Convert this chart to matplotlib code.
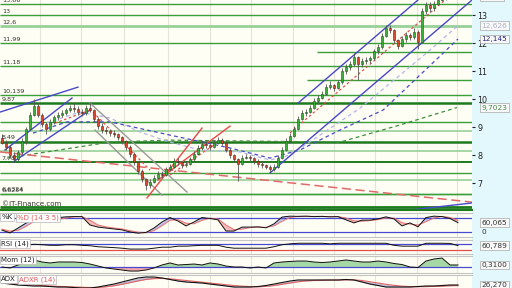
import numpy as np
import matplotlib
matplotlib.use("Agg")
import matplotlib.pyplot as plt
import matplotlib.transforms as mtransforms

# ---- price data (one candle every 4 px) ----
opens = [8.60, 8.45, 8.30, 8.00, 7.85, 8.10, 8.50, 8.95, 9.45, 9.75,
         9.45, 9.10, 8.95, 9.20, 9.35, 9.45, 9.50, 9.60, 9.70, 9.65,
         9.55, 9.50, 9.70, 9.60, 9.30, 9.05, 8.90, 8.85, 8.80, 8.75,
         8.65, 8.50, 8.30, 8.05, 7.75, 7.45, 7.15, 6.95, 7.05, 7.20,
         7.35, 7.30, 7.50, 7.60, 7.80, 7.75, 7.65, 7.70, 7.85, 8.05,
         8.25, 8.40, 8.35, 8.30, 8.45, 8.55, 8.45, 8.20, 8.00, 7.85,
         7.70, 7.90, 7.95, 7.90, 7.80, 7.70, 7.65, 7.60, 7.50, 7.60,
         7.90, 8.20, 8.50, 8.70, 8.95, 9.30, 9.50, 9.55, 9.70, 9.95,
         10.05, 10.20, 10.45, 10.50, 10.40, 10.60, 11.00, 11.15, 11.25, 11.50,
         11.25, 11.35, 11.40, 11.45, 11.70, 11.85, 12.25, 12.55, 12.45, 12.10,
         11.90, 12.15, 12.30, 12.20, 12.40, 12.05, 13.15, 13.35, 13.25, 13.40,
         13.55, 13.60, 13.72, 13.65, 13.70]
highs = [8.75, 8.55, 8.35, 8.10, 8.20, 8.60, 9.00, 9.55, 10.00, 9.85,
         9.50, 9.20, 9.30, 9.45, 9.55, 9.60, 9.70, 9.80, 9.85, 9.75,
         9.65, 9.80, 9.90, 9.65, 9.35, 9.15, 9.00, 8.95, 8.90, 8.80,
         8.70, 8.55, 8.35, 8.10, 7.80, 7.50, 7.20, 7.15, 7.30, 7.45,
         7.45, 7.60, 7.70, 7.90, 7.90, 7.80, 7.80, 7.95, 8.15, 8.35,
         8.55, 8.50, 8.40, 8.55, 8.65, 8.60, 8.50, 8.25, 8.05, 7.90,
         8.00, 8.05, 8.00, 7.95, 7.85, 7.80, 7.70, 7.65, 7.70, 8.00,
         8.30, 8.60, 8.80, 9.05, 9.40, 9.60, 9.65, 9.80, 10.05, 10.15,
         10.30, 10.55, 10.65, 10.55, 10.70, 11.10, 11.25, 11.35, 11.65, 11.55,
         11.45, 11.50, 11.55, 11.80, 11.95, 12.35, 12.65, 12.65, 12.50, 12.15,
         12.25, 12.40, 12.35, 12.55, 12.45, 13.25, 13.45, 13.45, 13.50, 13.60,
         13.70, 13.80, 13.80, 13.75, 13.75]
lows = [8.40, 8.20, 7.90, 7.75, 7.80, 8.05, 8.40, 8.90, 9.40, 9.35,
        9.00, 8.75, 8.85, 9.10, 9.25, 9.35, 9.45, 9.55, 9.55, 9.45,
        9.40, 9.45, 9.55, 9.20, 8.95, 8.80, 8.75, 8.70, 8.65, 8.55,
        8.40, 8.20, 7.95, 7.65, 7.35, 7.05, 6.75, 6.85, 7.00, 7.15,
        7.20, 7.25, 7.45, 7.55, 7.65, 7.55, 7.60, 7.65, 7.80, 8.00,
        8.20, 8.25, 8.20, 8.25, 8.40, 8.35, 8.10, 7.90, 7.75, 7.10,
        7.65, 7.85, 7.80, 7.70, 7.60, 7.55, 7.50, 7.40, 7.45, 7.55,
        7.85, 8.15, 8.45, 8.65, 8.90, 9.25, 9.40, 9.50, 9.65, 9.85,
        10.00, 10.15, 10.35, 10.30, 10.35, 10.55, 10.90, 11.05, 11.20, 10.70,
        11.15, 11.25, 11.30, 11.40, 11.60, 11.80, 12.20, 12.35, 12.00, 11.80,
        11.85, 12.05, 12.10, 12.15, 11.80, 12.00, 13.05, 13.10, 13.15, 13.35,
        13.50, 13.55, 13.60, 13.58, 13.60]
closes = [8.45, 8.30, 8.00, 7.85, 8.10, 8.50, 8.95, 9.45, 9.75, 9.45,
          9.10, 8.95, 9.20, 9.35, 9.45, 9.50, 9.60, 9.70, 9.65, 9.55,
          9.50, 9.70, 9.60, 9.30, 9.05, 8.90, 8.85, 8.80, 8.75, 8.65,
          8.50, 8.30, 8.05, 7.75, 7.45, 7.15, 6.95, 7.05, 7.20, 7.35,
          7.30, 7.50, 7.60, 7.80, 7.75, 7.65, 7.70, 7.85, 8.05, 8.25,
          8.40, 8.35, 8.30, 8.45, 8.55, 8.45, 8.20, 8.00, 7.85, 7.70,
          7.90, 7.95, 7.90, 7.80, 7.70, 7.65, 7.60, 7.50, 7.60, 7.90,
          8.20, 8.50, 8.70, 8.95, 9.30, 9.50, 9.55, 9.70, 9.95, 10.05,
          10.20, 10.45, 10.50, 10.40, 10.60, 11.00, 11.15, 11.25, 11.50, 11.25,
          11.35, 11.40, 11.45, 11.70, 11.85, 12.25, 12.55, 12.45, 12.10, 11.90,
          12.15, 12.30, 12.20, 12.40, 12.05, 13.15, 13.35, 13.25, 13.40, 13.55,
          13.60, 13.72, 13.65, 13.70, 13.66]

# horizontal support / resistance levels
levels = [13.39, 13.0, 12.6, 11.99, 11.68, 11.18, 10.68, 10.139, 9.87, 9.2,
          8.86, 8.49, 8.15, 7.77, 7.36, 7.12, 6.6324, 6.6254, 6.16]
level_labels = ["13,66", "13", "12,6", "11,99", "", "11,18", "", "10,139", "9,87", "",
                "", "8,49", "", "7,78", "", "", "6,6324", "6,6254", ""]
level_from = [None, None, None, None, 78.75, None, 76.25, None, None, None,
              None, None, None, None, None, None, None, None, None]

# trend lines, (candle index, price)
chan_upper = [(74, 9.86), (110, 14.27)]
chan_lower = [(67, 7.37), (117.5, 13.535)]
chan_mid = [(72, 8.80), (117.5, 14.36)]
left_top = [(-0.5, 9.54), (19, 10.43)]
left_up = [(0.75, 8.19), (17.5, 10.04)]
left_low = [(2.75, 7.76), (22, 9.61)]
left_mid = [(12, 9.08), (22, 9.61)]
gray_a = [(22, 9.86), (46.25, 6.69)]
gray_b = [(23.25, 8.90), (40, 6.58)]
gray_mid = [(22.75, 9.54), (37, 7.47)]
red_a = [(36.25, 6.48), (50, 8.97)]
red_b = [(39, 7.12), (57, 9.04)]
red_mid = [(42, 7.30), (53, 8.37)]
red_long = [(-0.5, 8.12), (117.5, 6.33)]
blue_low = [(102, 6.05), (117.5, 6.30)]

# averages, read as knots
ma_long_i = [1.25, 27, 42, 84.5, 99.5, 113.75]
ma_long_v = [7.90, 8.47, 8.54, 8.47, 9.08, 9.7023]
ma_mid_i = [7.75, 16.25, 27, 42, 57, 67, 74.5, 84.5, 95.25, 104.5, 114]
ma_mid_v = [8.79, 9.19, 9.19, 8.72, 8.26, 7.90, 8.19, 8.90, 9.61, 10.86, 12.145]
ma_short_i = [9.5, 19.5, 27, 34.5, 42, 49.5, 59.5, 67, 72, 79.5, 89.5, 99.5, 107, 114]
ma_short_v = [9.08, 9.54, 9.33, 8.83, 8.47, 8.19, 8.12, 7.83, 8.01, 8.72, 9.68, 10.86, 11.75, 12.626]

month_lines = [9.5, 19.8, 30.5, 41.5, 52, 62.3, 72.8, 83, 93.3, 103.8, 113.8]

# indicators, every second candle
stoch_k = [28, 16, 37, 58, 80, 76, 63, 82, 85, 86,
           86, 50, 41, 37, 33, 29, 20, 15, 18, 37,
           63, 82, 67, 46, 63, 82, 78, 72, 24, 24,
           41, 41, 42, 38, 55, 84, 88, 87, 88, 86,
           87, 85, 86, 72, 59, 71, 71, 76, 85, 76,
           46, 59, 42, 82, 88, 86, 78, 60.065]
stoch_d = [32, 24, 27, 44, 65, 77, 72, 73, 80, 85,
           86, 70, 50, 42, 37, 33, 26, 19, 17, 26,
           47, 70, 73, 58, 55, 70, 79, 76, 50, 30,
           32, 39, 41, 40, 46, 66, 82, 87, 87, 87,
           87, 86, 86, 80, 68, 66, 69, 73, 80, 80,
           60, 54, 50, 64, 80, 87, 82, 70]
rsi = [57, 50, 57, 63, 70, 67, 63, 63, 67, 67,
       63, 60, 53, 50, 47, 43, 37, 37, 37, 43,
       50, 50, 57, 57, 60, 63, 63, 63, 50, 43,
       43, 43, 43, 43, 53, 67, 73, 77, 77, 77,
       77, 73, 77, 77, 77, 77, 77, 77, 77, 63,
       57, 57, 57, 77, 77, 77, 76, 60.789]
mom = [0.0, -0.15, 0.31, 0.77, 1.08, 0.77, 0.62, 0.77, 0.77, 0.77,
       0.69, 0.46, 0.15, -0.15, -0.31, -0.46, -0.62, -0.62, -0.46, -0.15,
       0.31, 0.62, 0.31, 0.38, 0.46, 0.31, 0.62, 0.46, 0.15, 0.0,
       0.0, -0.15, 0.0, -0.15, 0.62, 0.77, 0.85, 0.92, 0.92, 0.77,
       0.69, 0.77, 0.92, 1.08, 0.92, 0.77, 0.77, 0.92, 0.77, 0.54,
       0.38, 0.0, -0.08, 0.92, 1.23, 1.38, 0.31, 0.31]
adx = [31.0, 28.6, 26.3, 25.1, 23.9, 23.9, 22.7, 21.5, 21.5, 20.3,
       19.1, 19.1, 21.5, 25.1, 28.6, 33.4, 38.2, 43.0, 45.3, 45.3,
       43.0, 39.4, 35.8, 33.4, 32.2, 31.0, 28.6, 26.3, 23.9, 21.5,
       21.5, 21.5, 22.7, 25.1, 28.6, 32.2, 35.8, 38.2, 38.2, 38.2,
       38.2, 38.2, 38.2, 39.4, 38.2, 33.4, 28.6, 25.1, 21.5, 21.5,
       21.5, 21.5, 22.7, 23.9, 23.9, 25.1, 26.3, 26.27]
adxr = [33.0, 31.0, 29.0, 27.5, 26.0, 25.0, 24.0, 23.0, 22.3, 21.6,
        21.0, 20.3, 20.5, 22.0, 24.5, 28.0, 32.0, 36.0, 39.5, 41.5,
        42.0, 41.0, 39.0, 37.0, 35.0, 33.0, 31.0, 29.0, 27.0, 25.0,
        23.5, 22.5, 22.0, 23.0, 25.0, 28.0, 31.0, 34.0, 36.0, 37.0,
        37.5, 38.0, 38.0, 38.5, 38.5, 37.0, 34.0, 31.0, 28.0, 25.5,
        23.5, 22.5, 22.3, 22.5, 23.0, 23.5, 24.5, 25.0]

W, H = 512, 288
PLOT_W = 472
IVORY = "#fefef4"
GREEN = "#3a9e3a"
DARKG = "#1e7a1e"
LIGHTG = "#98d098"
level_style = {13.39: (GREEN, 1.0), 13.0: (GREEN, 1.0), 12.6: (LIGHTG, 2.0), 9.87: (DARKG, 1.8),
               8.86: (LIGHTG, 1.2), 8.49: (DARKG, 1.8), 8.15: (LIGHTG, 1.2), 7.77: (DARKG, 1.4),
               7.12: (LIGHTG, 1.2), 6.16: (DARKG, 2.0)}


def panel(top, bot):
    return [0, 1 - bot / H, PLOT_W / W, (bot - top) / H]


def style_panel(ax):
    ax.set_facecolor(IVORY)
    ax.set_xlim(-0.5, 117.5)
    ax.set_xticks([])
    ax.set_yticks([])
    for s in ("left", "right"):
        ax.spines[s].set_visible(False)
    for s in ("top", "bottom"):
        ax.spines[s].set_color("#c4c4c4")
        ax.spines[s].set_linewidth(0.8)
    for m in month_lines:
        ax.axvline(m, color="#e4e4d8", lw=0.8, zorder=0)


def tag(ax, x, text, color="#222222"):
    ax.text(x, 0.95, text, transform=ax.transAxes, fontsize=5, color=color, va="top", ha="left",
            bbox=dict(boxstyle="square,pad=0.15", fc="white", ec="#b8b8b8", lw=0.5), zorder=10)


def value_box(ax, y, text, color="#333333", box=True):
    tr = mtransforms.blended_transform_factory(ax.transAxes, ax.transData)
    kw = dict(boxstyle="square,pad=0.2", fc="#f8f8f8", ec="#a8a8a8", lw=0.5) if box else None
    ax.text(1.02, y, text, transform=tr, fontsize=5.3, color=color, va="center", ha="left",
            bbox=kw, zorder=20, clip_on=False)


def seg(ax, pts, **kw):
    ax.plot([p[0] for p in pts], [p[1] for p in pts], **kw)


fig = plt.figure(figsize=(W / 100, H / 100), dpi=100, facecolor="#e2f8fc")
bg = fig.add_axes([0, 0, PLOT_W / W, 1], zorder=-5)
bg.set_facecolor(IVORY)
bg.axis("off")
bg.add_patch(plt.Rectangle((0, 0), 1, 1, transform=bg.transAxes, fc=IVORY, ec="none"))

# ---- main price panel ----
ax = fig.add_axes(panel(0, 210))
style_panel(ax)
ax.spines["top"].set_visible(False)
ax.spines["bottom"].set_color(DARKG)
ax.spines["bottom"].set_linewidth(1.5)
ax.set_ylim(6.05, 13.535)
ax.yaxis.tick_right()
ax.set_yticks(range(7, 14))
ax.tick_params(axis="y", labelsize=5.8, length=2.5, pad=1.5, colors="#222222")

ltr = mtransforms.blended_transform_factory(ax.transAxes, ax.transData)
for lv, lab, start in zip(levels, level_labels, level_from):
    col, lw = level_style.get(lv, (GREEN, 1.0))
    x0 = -0.5 if start is None else start
    ax.plot([x0, 117.5], [lv, lv], color=col, lw=lw, zorder=1, solid_capstyle="butt")
    if lab:
        ax.text(0.004, lv + 0.05, lab, transform=ltr, fontsize=4.6, color="#333333",
                va="bottom", ha="left", zorder=6, clip_on=False)

ax.plot(ma_long_i, ma_long_v, color="#3d8f3d", lw=0.9, ls=(0, (3, 2.5)), zorder=2)
ax.plot(ma_mid_i, ma_mid_v, color="#4a4ac8", lw=0.9, ls=(0, (3, 2.5)), zorder=2)
ax.plot(ma_short_i, ma_short_v, color="#b4b4ec", lw=0.9, ls=(0, (3, 2.5)), zorder=2)

seg(ax, red_long, color="#e06a6a", lw=1.1, ls=(0, (6, 3)), zorder=2)
seg(ax, blue_low, color="#4a4ad0", lw=1.0, zorder=2)
for pts in (chan_upper, chan_lower, left_top, left_up, left_low):
    seg(ax, pts, color="#4848c8", lw=1.0, zorder=2)
for pts in (chan_mid, left_mid, gray_mid, red_mid):
    seg(ax, pts, color="#e05050", lw=0.9, ls=(0, (2, 2)), zorder=2)
for pts in (gray_a, gray_b):
    seg(ax, pts, color="#999999", lw=1.0, zorder=2)
for pts in (red_a, red_b):
    seg(ax, pts, color="#e84848", lw=1.0, zorder=2)

idx = np.arange(len(closes))
o, h, l, c = map(np.array, (opens, highs, lows, closes))
up = c >= o
ax.vlines(idx, l, h, color="#555555", lw=0.6, zorder=3)
ax.bar(idx[up], (c - o)[up], bottom=o[up], width=0.62, color="#3fae3f", edgecolor="#2c4c2c",
       linewidth=0.4, zorder=4)
ax.bar(idx[~up], (o - c)[~up], bottom=c[~up], width=0.62, color="#d8482e", edgecolor="#4c2c2c",
       linewidth=0.4, zorder=4)

ax.text(0.004, 0.012, "©IT-Finance.com", transform=ax.transAxes, fontsize=5, color="#333333",
        va="bottom", ha="left", zorder=6)
value_box(ax, closes[-1], "13,66", color="#d04040")
value_box(ax, ma_short_v[-1], "12,626", color="#b0b0c8")
value_box(ax, ma_mid_v[-1], "12,145", color="#2a2a80")
value_box(ax, ma_long_v[-1], "9,7023", color="#4a8a4a")

ind_x = np.arange(0, len(closes), 2)

# ---- stochastic ----
ax1 = fig.add_axes(panel(213, 237))
style_panel(ax1)
ax1.set_ylim(-1.5, 101.5)
k, d = np.array(stoch_k, float), np.array(stoch_d, float)
ax1.fill_between(ind_x, k, d, where=k >= d, interpolate=True, color="#9a9ae6", alpha=0.6, lw=0)
ax1.fill_between(ind_x, k, d, where=k < d, interpolate=True, color="#f2a0a0", alpha=0.7, lw=0)
ax1.axhline(80, color="#4a4ad0", lw=0.9)
ax1.axhline(20, color="#4a4ad0", lw=0.9)
ax1.plot(ind_x, d, color="#e87070", lw=0.7)
ax1.plot(ind_x, k, color="#111111", lw=0.7)
tag(ax1, 0.003, "%K")
tag(ax1, 0.036, "%D (14 3 5)", color="#e05a5a")
value_box(ax1, stoch_k[-1], "60,065")
value_box(ax1, 20, "0", box=False)

# ---- RSI ----
ax2 = fig.add_axes(panel(239.5, 254))
style_panel(ax2)
ax2.set_ylim(3, 103)
ax2.axhline(70, color="#4a4ad0", lw=0.9)
ax2.axhline(30, color="#e05050", lw=0.9)
ax2.plot(ind_x, rsi, color="#111111", lw=0.7)
tag(ax2, 0.003, "RSI (14)")
value_box(ax2, rsi[-1], "60,789")

# ---- momentum ----
ax3 = fig.add_axes(panel(256, 273))
style_panel(ax3)
ax3.set_ylim(-0.92, 1.69)
mm = np.array(mom)
ax3.fill_between(ind_x, mm, 0, where=mm >= 0, interpolate=True, color="#a6d8a6", lw=0)
ax3.fill_between(ind_x, mm, 0, where=mm < 0, interpolate=True, color="#f0a8a8", lw=0)
ax3.axhline(0, color="#4a4ad0", lw=0.9)
ax3.plot(ind_x, mm, color="#111111", lw=0.7)
tag(ax3, 0.003, "Mom (12)")
value_box(ax3, mom[-1], "0,3100")

# ---- ADX ----
ax4 = fig.add_axes(panel(275, 300))
style_panel(ax4)
ax4.set_ylim(-9.4, 50.1)
ax4.fill_between(ind_x, adx, adxr, color="#8888c8", alpha=0.5, lw=0)
ax4.plot(ind_x, adxr, color="#e06060", lw=0.8)
ax4.plot(ind_x, adx, color="#111111", lw=0.8)
tag(ax4, 0.003, "ADX")
tag(ax4, 0.04, "ADXR (14)", color="#e05a5a")
value_box(ax4, adx[-1], "26,270")

fig.savefig("out.png", dpi=100, facecolor=fig.get_facecolor())
